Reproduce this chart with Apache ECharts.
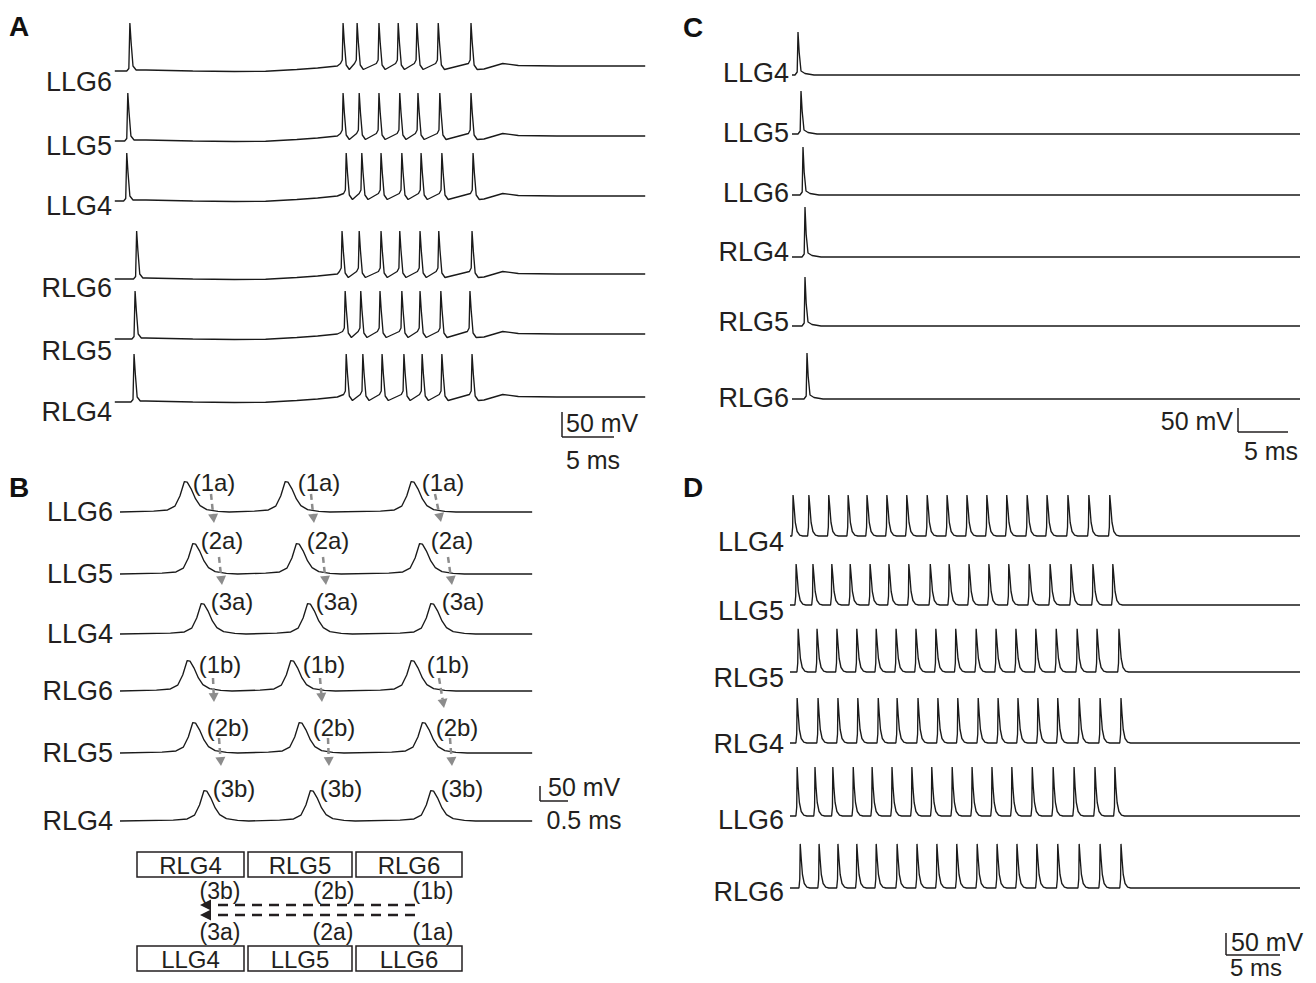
<!DOCTYPE html>
<html><head><meta charset="utf-8">
<script src="https://cdn.jsdelivr.net/npm/echarts@6/dist/echarts.min.js"></script>
<style>html,body{margin:0;padding:0;background:#fff}#c{width:1316px;height:983px}</style>
</head><body><div id="c"></div>
<script>
// ================= DATA (time in ms, membrane potential in mV) =================
// Panel A
const namesA = ['LLG6','LLG5','LLG4','RLG6','RLG5','RLG4'];
const spikesA_LLG6 = [0.95, 21.45, 22.8, 24.9, 26.75, 28.55, 30.6, 33.75];
const spikesA_LLG5 = [0.75, 21.45, 23.0, 24.9, 26.9, 28.65, 30.75, 33.75];
const spikesA_LLG4 = [0.65, 21.75, 23.25, 25.1, 27.1, 28.95, 30.95, 33.95];
const spikesA_RLG6 = [1.6, 21.35, 23.0, 25.1, 26.9, 28.85, 30.65, 33.85];
const spikesA_RLG5 = [1.45, 21.65, 23.15, 25.0, 27.1, 28.85, 30.85, 33.65];
const spikesA_RLG4 = [1.35, 21.75, 23.35, 25.2, 27.3, 29.05, 30.95, 33.85];
const baselineA = [[-0.5,-62],[2.5,-60],[7,-62],[11,-63],[14,-62.5],[17,-59],[19,-56],[20.9,-52],[35,-58],[36.8,-47],[38.3,-51],[42,-52],[50.5,-52]];
const spikeShapeIsoA = [[-0.3,-62],[-0.1,-57],[0,34],[0.12,-5],[0.3,-52],[0.6,-60]];
const spikeShapeBurstA = [[-0.25,-47],[-0.08,-40],[0,34],[0.12,-5],[0.3,-50],[0.6,-59]];

// Panel B
const namesB = ['LLG6','LLG5','LLG4','RLG6','RLG5','RLG4'];
const spikesB_LLG6 = [1.15, 2.95, 5.2];
const spikesB_LLG5 = [1.3, 3.15, 5.35];
const spikesB_LLG4 = [1.45, 3.35, 5.55];
const spikesB_RLG6 = [1.2, 3.05, 5.2];
const spikesB_RLG5 = [1.3, 3.2, 5.4];
const spikesB_RLG4 = [1.5, 3.4, 5.55];
const baselineB = [[0,-60],[7.36,-60]];
const spikeShapeB = [[-0.55,-57],[-0.3,-53],[-0.17,-40],[-0.08,-5],[0,45],[0.05,43],[0.12,20],[0.2,-15],[0.28,-38],[0.4,-52],[0.6,-58],[0.8,-60]];
const tagsB = ['(1a)','(2a)','(3a)','(1b)','(2b)','(3b)'];

// Panel C
const namesC = ['LLG4','LLG5','LLG6','RLG4','RLG5','RLG6'];
const spikeTimesC = [0.6, 0.9, 1.1, 1.3, 1.3, 1.5];
const spikePeaksC = [26, 26, 36, 40, 38, 32];
const baselineC = [[0,-60],[50.8,-60]];
const spikeShapeC = [[-0.3,-60],[-0.08,-54],[0,null],[0.12,-15],[0.3,-52],[0.7,-57],[1.6,-60]];

// Panel D
const namesD = ['LLG4','LLG5','RLG5','RLG4','LLG6','RLG6'];
const spikesD_LLG4 = [0.3, 1.85, 3.8, 5.7, 7.55, 9.5, 11.45, 13.45, 15.4, 17.35, 19.3, 21.25, 23.25, 25.2, 27.25, 29.3, 31.35];
const spikesD_LLG5 = [0.6, 2.25, 4.1, 5.9, 7.85, 9.7, 11.65, 13.75, 15.6, 17.55, 19.5, 21.45, 23.45, 25.5, 27.55, 29.7, 31.65];
const spikesD_RLG5 = [0.8, 2.65, 4.6, 6.55, 8.45, 10.4, 12.35, 14.3, 16.25, 18.25, 20.2, 22.15, 24.1, 26.1, 28.15, 30.1, 32.25];
const spikesD_RLG4 = [0.7, 2.75, 4.7, 6.65, 8.65, 10.5, 12.55, 14.5, 16.45, 18.45, 20.4, 22.35, 24.3, 26.25, 28.35, 30.4, 32.45];
const spikesD_LLG6 = [0.7, 2.45, 4.2, 6.2, 8.05, 10.0, 11.95, 13.9, 15.9, 17.85, 19.8, 21.75, 23.75, 25.8, 27.85, 29.9, 31.85];
const spikesD_RLG6 = [1.0, 2.85, 4.7, 6.55, 8.45, 10.5, 12.45, 14.4, 16.35, 18.35, 20.3, 22.25, 24.2, 26.25, 28.35, 30.4, 32.45];
const spikePeaksD = [31, 31, 36, 40, 49, 38];
const baselineD = [[0,-60],[50,-60]];
const spikeShapeD = [[-0.12,-60],[-0.04,-40],[0,null],[0.1,5],[0.22,-30],[0.4,-50],[0.65,-58],[0.95,-60]];

// Scale bar labels
const scaleLabels = {A:['50 mV','5 ms'], B:['50 mV','0.5 ms'], C:['50 mV','5 ms'], D:['50 mV','5 ms']};

// ================= LAYOUT =================
const FONT = '"Liberation Sans", Arial, Helvetica, sans-serif';
const INK = '#231f20';
const layoutA = {x0:120, k:10.4, tMin:-0.5, tMax:50.5, kV:0.5, rest:-62, base:[71,141,201,279,339,402], lab:[82,146,206,288,351,412], labX:112};
const layoutB = {x0:120, k:56, tMin:0, tMax:7.36, kV:0.29, rest:-60, base:[512,574,634,691,753,821], lab:[512,574,634,691,753,821], labX:113};
const layoutC = {x0:792, k:10, tMin:0, tMax:50.8, kV:0.5, rest:-60, base:[75,134,195,257,326,399], lab:[73,133,193,252,322,398], labX:789};
const layoutD = {x0:790, k:10.2, tMin:0, tMax:50, kV:0.45, rest:-60, base:[536,605,672,743,816,888], lab:[542,611,678,744,820,892], labX:784};

// ================= BUILD =================
function place(shape, t, peak) { return shape.map(([dt, v]) => [+(t + dt).toFixed(3), v === null ? peak : v]); }
function build(baseline, spikes, shapeFirst, shape, peak) {
  let pts = baseline.map(p => p.slice());
  spikes.forEach((t, i) => { pts = pts.concat(place(i === 0 ? shapeFirst : shape, t, peak)); });
  pts.sort((a, b) => a[0] - b[0]);
  return pts;
}

const grids = [], xAxes = [], yAxes = [], series = [], g = [];
function addTrace(L, idx, data) {
  const i = grids.length;
  const vTop = L.rest + 120, vBot = L.rest - 20;
  const yb = L.base[idx];
  grids.push({left: L.x0 + L.tMin * L.k, width: (L.tMax - L.tMin) * L.k, top: yb - (vTop - L.rest) * L.kV, height: (vTop - vBot) * L.kV, containLabel: false});
  xAxes.push({type:'value', gridIndex:i, min:L.tMin, max:L.tMax, show:false});
  yAxes.push({type:'value', gridIndex:i, min:vBot, max:vTop, show:false});
  series.push({type:'line', xAxisIndex:i, yAxisIndex:i, data, symbol:'none', showSymbol:false, silent:true, clip:false,
    lineStyle:{color:'#1a1a1a', width:1.35}});
}

function txt(s, x, y, size, align, bold, color) {
  g.push({type:'text', x, y, silent:true, z:50, style:{text:s, font:(bold?'bold ':'') + size + 'px ' + FONT, fill: color || INK, align, verticalAlign:'middle'}});
}
function seg(x1, y1, x2, y2, w, color, dash) {
  g.push({type:'line', silent:true, z:50, shape:{x1, y1, x2, y2}, style:{stroke: color || INK, lineWidth: w || 1.5, lineDash: dash || null}});
}
function arrow(x1, y1, x2, y2, w, color, dash, hl, hw) {
  const dx = x2 - x1, dy = y2 - y1, Ln = Math.hypot(dx, dy), ux = dx / Ln, uy = dy / Ln;
  const bx = x2 - ux * hl, by = y2 - uy * hl;
  seg(x1, y1, bx, by, w, color, dash);
  g.push({type:'polygon', silent:true, z:50, shape:{points:[[x2, y2],[bx - uy * hw, by + ux * hw],[bx + uy * hw, by - ux * hw]]}, style:{fill:color}});
}
function box(x, y, w, h, label) {
  g.push({type:'rect', silent:true, z:50, shape:{x, y, width:w, height:h}, style:{fill:'none', stroke:INK, lineWidth:1.5}});
  txt(label, x + w / 2, y + h / 2 + 1, 24, 'center');
}

// Panel A traces
const spikesA = [spikesA_LLG6, spikesA_LLG5, spikesA_LLG4, spikesA_RLG6, spikesA_RLG5, spikesA_RLG4];
namesA.forEach((n, i) => {
  addTrace(layoutA, i, build(baselineA, spikesA[i], spikeShapeIsoA, spikeShapeBurstA));
  txt(n, layoutA.labX, layoutA.lab[i], 27, 'right');
});
// Panel B traces
const spikesB = [spikesB_LLG6, spikesB_LLG5, spikesB_LLG4, spikesB_RLG6, spikesB_RLG5, spikesB_RLG4];
namesB.forEach((n, i) => {
  addTrace(layoutB, i, build(baselineB, spikesB[i], spikeShapeB, spikeShapeB));
  txt(n, layoutB.labX, layoutB.lab[i], 27, 'right');
});
// Panel C traces
namesC.forEach((n, i) => {
  addTrace(layoutC, i, build(baselineC, [spikeTimesC[i]], spikeShapeC, spikeShapeC, spikePeaksC[i]));
  txt(n, layoutC.labX, layoutC.lab[i], 27, 'right');
});
// Panel D traces
const spikesD = [spikesD_LLG4, spikesD_LLG5, spikesD_RLG5, spikesD_RLG4, spikesD_LLG6, spikesD_RLG6];
namesD.forEach((n, i) => {
  addTrace(layoutD, i, build(baselineD, spikesD[i], spikeShapeD, spikeShapeD, spikePeaksD[i]));
  txt(n, layoutD.labX, layoutD.lab[i], 27, 'right');
});

// Panel letters
txt('A', 9, 26, 28, 'left', true, '#111');
txt('B', 9, 487, 28, 'left', true, '#111');
txt('C', 683, 27, 28, 'left', true, '#111');
txt('D', 683, 487, 28, 'left', true, '#111');

// Scale bars
seg(562, 412, 562, 437); seg(562, 437, 614, 437);
txt(scaleLabels.A[0], 566, 423, 25, 'left'); txt(scaleLabels.A[1], 593, 460, 25, 'center');
seg(540, 786, 540, 801); seg(540, 801, 568, 801);
txt(scaleLabels.B[0], 548, 787, 25, 'left'); txt(scaleLabels.B[1], 584, 820, 25, 'center');
seg(1238, 408, 1238, 432); seg(1238, 432, 1288, 432);
txt(scaleLabels.C[0], 1233, 421, 25, 'right'); txt(scaleLabels.C[1], 1271, 451, 25, 'center');
seg(1226, 933, 1226, 955); seg(1226, 955, 1280, 955);
txt(scaleLabels.D[0], 1231, 942, 25, 'left'); txt(scaleLabels.D[1], 1256, 967, 24, 'center');

// Panel B annotations (conduction tags and arrows)
const tagX = [[214,319,443],[222,328,452],[232,337,463],[220,324,448],[228,334,457],[234,341,462]];
const tagY = [482, 540, 601, 664, 727, 788];
tagsB.forEach((s, i) => tagX[i].forEach(x => txt(s, x, tagY[i], 24, 'center')));
const GRAY = '#8c8c8c';
[[211,494,214,523],[311,494,314,523],[435,494,441,522],
 [219,557,222,585],[323,557,326,585],[448,557,452,585],
 [213,678,214,702],[320,678,322,702],[439,678,444,708],
 [219,738,221,766],[328,738,329,766],[450,738,452,766]].forEach(a => arrow(a[0], a[1], a[2], a[3], 2.5, GRAY, [6, 4], 9, 5));

// Schematic
box(137, 852, 107, 25, 'RLG4'); box(248, 852, 104, 25, 'RLG5'); box(356, 852, 106, 25, 'RLG6');
box(137, 946, 107, 25, 'LLG4'); box(248, 946, 104, 25, 'LLG5'); box(356, 946, 106, 25, 'LLG6');
txt('(3b)', 220, 891, 23, 'center'); txt('(2b)', 334, 891, 23, 'center'); txt('(1b)', 433, 891, 23, 'center');
txt('(3a)', 220, 932, 23, 'center'); txt('(2a)', 333, 932, 23, 'center'); txt('(1a)', 433, 932, 23, 'center');
arrow(415, 905, 200, 905, 2.5, INK, [10, 7], 11, 5.5);
arrow(415, 915, 200, 915, 2.5, INK, [10, 7], 11, 5.5);

const chart = echarts.init(document.getElementById('c'), null, {renderer:'svg', width:1316, height:983});
chart.setOption({
  animation:false,
  backgroundColor:'#ffffff',
  grid: grids, xAxis: xAxes, yAxis: yAxes, series,
  graphic: {elements: g}
});
</script></body></html>
